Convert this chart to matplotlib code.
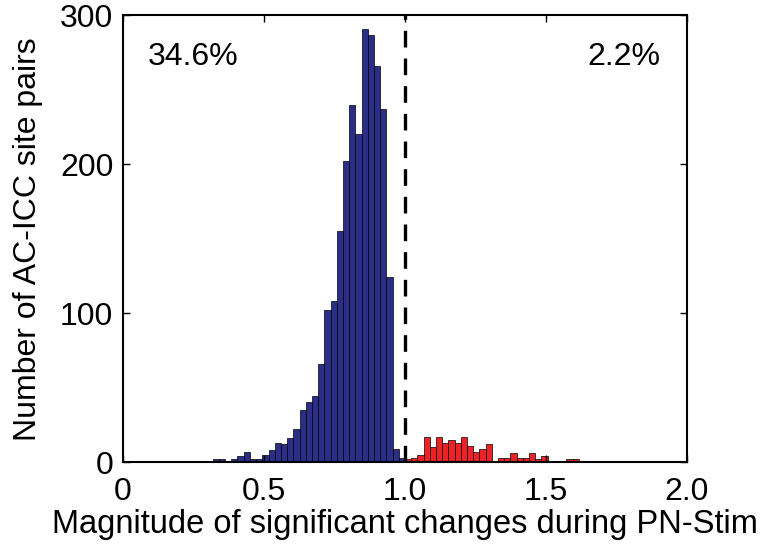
import numpy as np
import matplotlib
matplotlib.use("Agg")
import matplotlib.pyplot as plt

plt.rcParams['font.family'] = ['Liberation Sans', 'DejaVu Sans']

# histogram bins: width and the split point (1.0)
bin_width = 0.022
split = 1.0

# counts below 1.0, left to right (last one ends at 1.0)
below_counts = [2, 2, 0, 2, 4, 7, 2, 2, 5, 8, 13, 12, 16, 22, 35, 40, 44,
                66, 102, 108, 155, 202, 240, 220, 291, 287, 266, 237, 124, 9, 3]
# counts above 1.0, left to right (first one starts at 1.0)
above_counts = [2, 3, 5, 17, 10, 17, 13, 15, 13, 17, 11, 7, 9, 12, 0,
                3, 3, 6, 3, 3, 6, 2, 4, 0, 0, 0, 2, 2]

pct_below = "34.6%"
pct_above = "2.2%"

xticks = [0, 0.5, 1.0, 1.5, 2.0]
xticklabels = ["0", "0.5", "1.0", "1.5", "2.0"]
yticks = [0, 100, 200, 300]

n_below = len(below_counts)
left_below = split - bin_width * np.arange(n_below, 0, -1)
left_above = split + bin_width * np.arange(len(above_counts))

fig = plt.figure(figsize=(7.62, 5.5), dpi=100)
ax = fig.add_axes([0.1614, 0.16, 0.7402, 0.812])

ax.bar(left_below, below_counts, width=bin_width, align='edge',
       color='#2a2e86', edgecolor='black', linewidth=0.5)
ax.bar(left_above, above_counts, width=bin_width, align='edge',
       color='#ec2227', edgecolor='black', linewidth=0.5)

ax.axvline(split, color='black', lw=2.4, dashes=(5, 3.3))

ax.set_xlim(0, 2.0)
ax.set_ylim(0, 300)
ax.set_xticks(xticks)
ax.set_xticklabels(xticklabels)
ax.set_yticks(yticks)
ax.tick_params(direction='in', top=True, right=True, length=5, width=1,
               labelsize=23)
ax.tick_params(axis='x', pad=11)
ax.tick_params(axis='y', pad=7)
for s in ax.spines.values():
    s.set_linewidth(1.5)

ax.text(0.044, 0.89, pct_below, transform=ax.transAxes, fontsize=23,
        ha='left', va='baseline')
ax.text(0.952, 0.89, pct_above, transform=ax.transAxes, fontsize=23,
        ha='right', va='baseline')

ax.set_xlabel('Magnitude of significant changes during PN-Stim', fontsize=23.5,
              labelpad=1)
ax.set_ylabel('Number of AC-ICC site pairs', fontsize=23, labelpad=12)

fig.savefig('out.png', dpi=100)
